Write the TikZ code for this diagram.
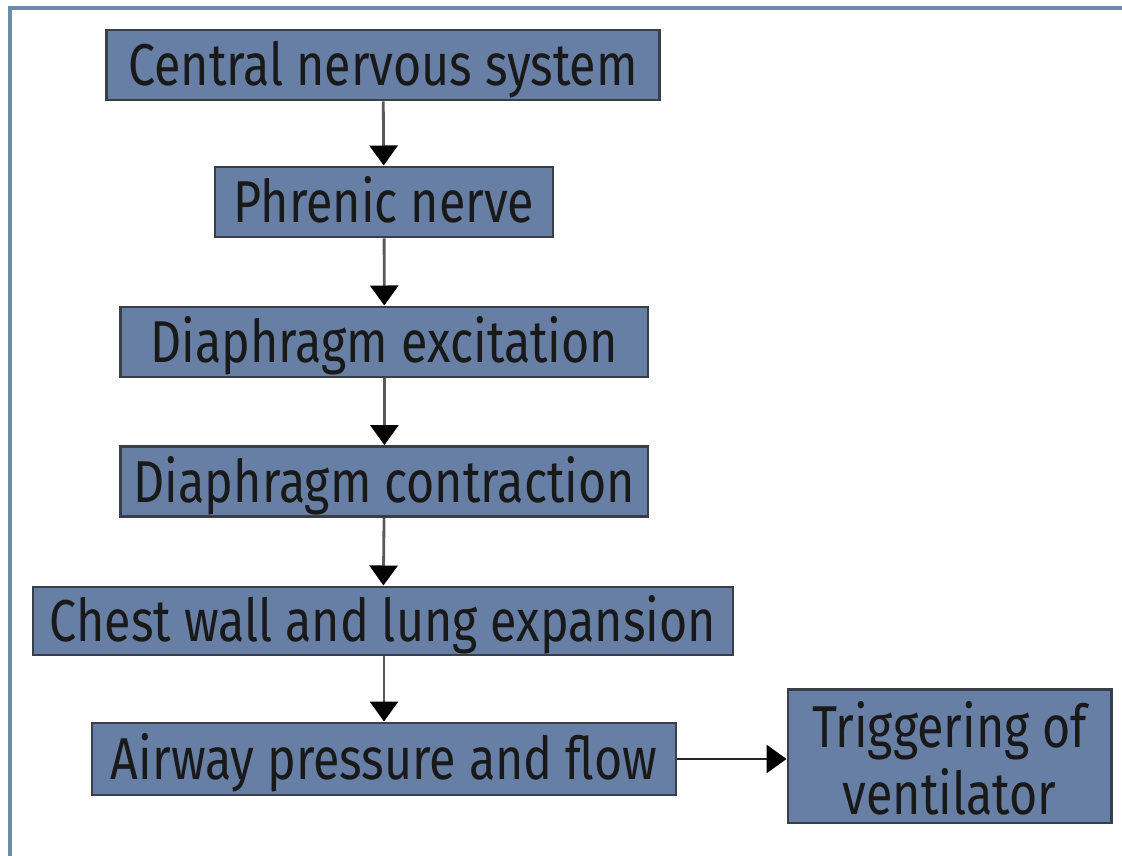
\documentclass[tikz,border=0pt]{standalone}
\usepackage{fontspec}
\setmainfont{Fira Sans}[FakeStretch=0.82]
\usetikzlibrary{arrows.meta}
\definecolor{boxblue}{RGB}{103,127,164}
\definecolor{boxedge}{RGB}{58,62,72}
\definecolor{framecol}{RGB}{106,140,168}
\definecolor{linegray}{RGB}{90,90,90}

\begin{document}
\begin{tikzpicture}[
        stage/.style={draw=boxedge, line width=2.1pt, fill=boxblue, text=black!90,
            minimum height=1.75cm, inner sep=0pt, align=center,
            text height=1.05cm, text depth=0pt,
            font=\fontsize{42}{47.7}\selectfont},
        flow/.style={draw=linegray, line width=2pt,
            -{Triangle[width=0.7cm,length=0.5cm,color=black]}}]
    \useasboundingbox (0,0) rectangle (28.05,21.4);
    % open frame
    \draw[framecol, line width=0.11cm] (0.25,0) -- (0.25,21.2) -- (28.05,21.2);

    \node[stage, minimum width=13.83cm] (cns) at (9.575,19.775) {Central nervous system};
    \node[stage, minimum width=8.45cm] (phrenic) at (9.6,16.35) {Phrenic nerve};
    \node[stage, minimum width=13.18cm] (excit) at (9.61,12.85) {Diaphragm excitation};
    \node[stage, minimum width=13.18cm] (contr) at (9.61,9.36) {Diaphragm contraction};
    \node[stage, minimum width=17.5cm, minimum height=1.7cm] (chest) at (9.575,5.875) {Chest wall and lung expansion};
    \node[stage, minimum width=14.6cm, minimum height=1.8cm] (airway) at (9.6,2.425) {Airway pressure and flow};
    \node[stage, minimum width=8.08cm, minimum height=3.33cm, text height=2.93cm] (trigger) at (23.74,2.49) {Triggering of\\ventilator};

    \draw[flow] (cns) -- (phrenic);
    \draw[flow] (phrenic) -- (excit);
    \draw[flow] (excit) -- (contr);
    \draw[flow] (contr) -- (chest);
    \draw[flow] (chest.south -| airway.north) -- (airway);
    \draw[flow, draw=black!85] (airway) -- (airway -| trigger.west);
\end{tikzpicture}
\end{document}
